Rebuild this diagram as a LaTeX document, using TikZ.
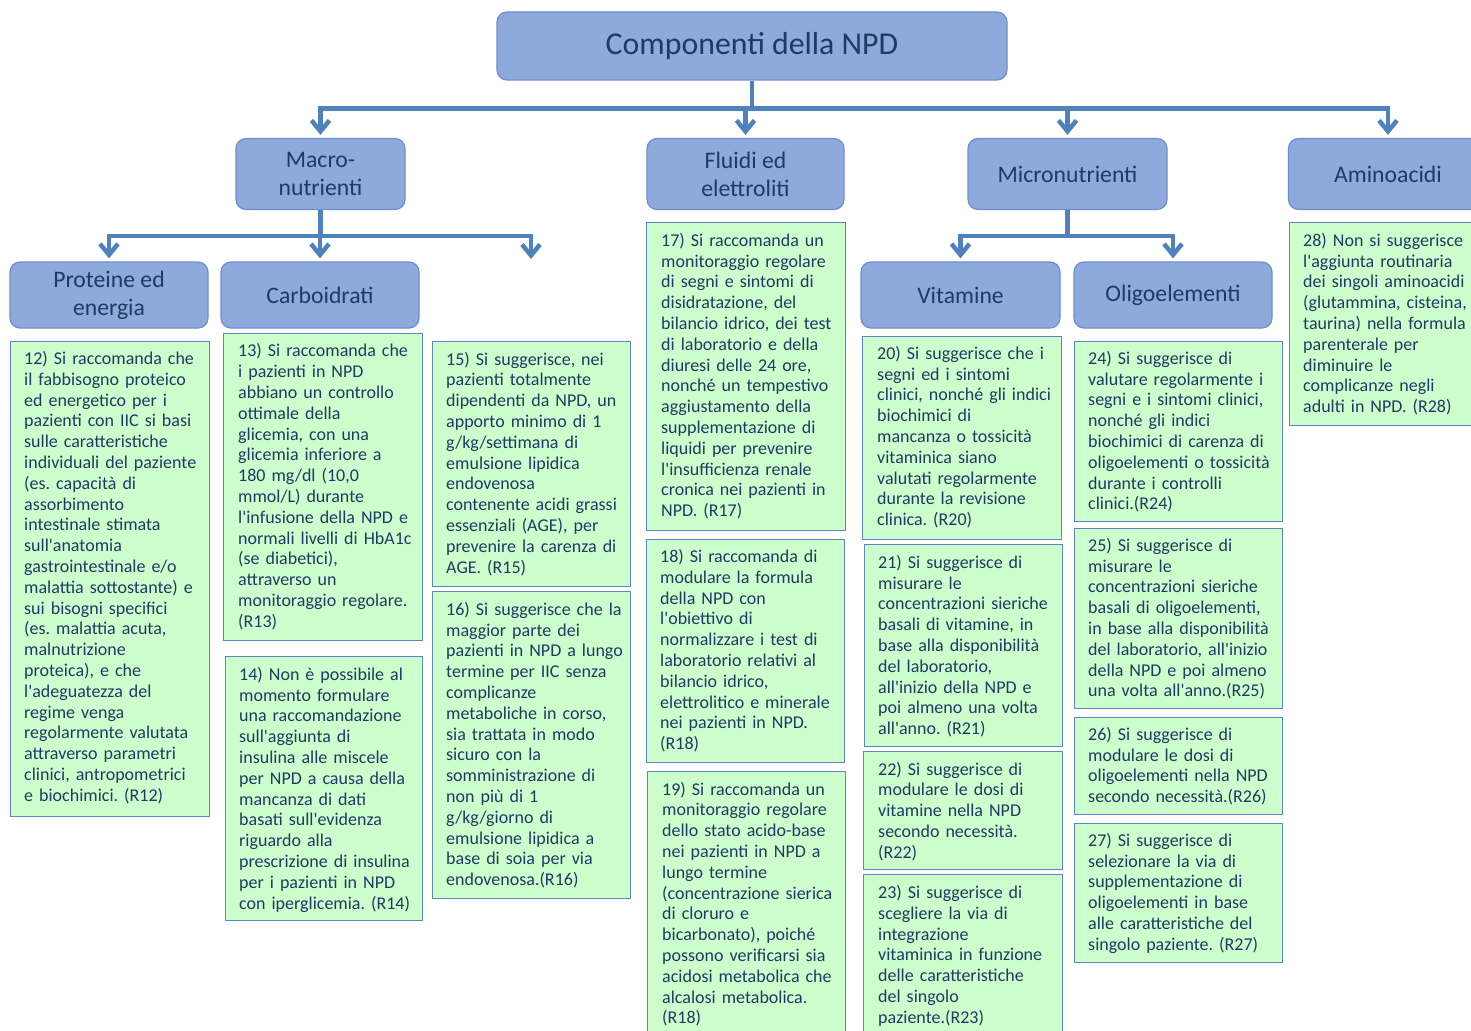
\documentclass[tikz,border=0pt]{standalone}
\usepackage{fontspec}
\newfontfamily\carlitofont{Carlito}
\usetikzlibrary{arrows.meta}
\definecolor{hdrfill}{HTML}{8EA9DB}
\definecolor{hdrline}{HTML}{6E8ECD}
\definecolor{txtblue}{HTML}{1F3A63}
\definecolor{gfill}{HTML}{CCFFCC}
\definecolor{gline}{HTML}{5B87C5}
\definecolor{cline}{HTML}{4F81BD}
\newcommand\firststrut{\setlength{\parindent}{0pt}\rule{0pt}{14.56pt}}
\frenchspacing

\begin{document}
\begin{tikzpicture}[x=1pt,y=-1pt,
  hdr/.style={draw=hdrline, fill=hdrfill, rounded corners=10pt, line width=1.2pt,
    text=txtblue, align=center, inner sep=0pt,
    font={\carlitofont\fontsize{23.7}{28}\selectfont}},
  gbox/.style={draw=gline, fill=gfill, line width=1.3pt, inner sep=0pt, anchor=north west},
  gtxt/.style={anchor=north west, inner sep=0pt, text=txtblue, align=left, text width=250pt,
    font={\carlitofont\fontsize{18}{20.8}\selectfont}},
  conn/.style={draw=cline, line width=4.5pt},
  bus/.style={conn, line cap=rect},
  arr/.style={conn, -{Straight Barb[length=11pt,width=18pt]}, shorten >=3pt}
]
\useasboundingbox (0,0) rectangle (1471,1030);
\clip (0,0) rectangle (1471,1030);

% ---------- headers ----------
\node[hdr, minimum width=510pt, minimum height=68pt,
      font={\carlitofont\fontsize{31.8}{36}\selectfont}] (root) at (752,46) {Componenti della NPD};
\node[hdr, minimum width=169pt, minimum height=71pt] (macro) at (320.5,174) {Macro-\\nutrienti};
\node[hdr, minimum width=197pt, minimum height=71pt] (fluidi) at (745.5,174) {Fluidi ed\\elettroliti};
\node[hdr, minimum width=199pt, minimum height=71pt] (micro) at (1067.5,174) {Micronutrienti};
\node[hdr, minimum width=199pt, minimum height=71pt] (amino) at (1388,174) {Aminoacidi};
\node[hdr, minimum width=198pt, minimum height=66pt] (prot) at (109,295) {Proteine ed\\energia};
\node[hdr, minimum width=198pt, minimum height=66pt] (carb) at (320,295) {Carboidrati};
\node[hdr, minimum width=199pt, minimum height=66pt] (vit) at (960.5,295) {Vitamine};
\node[hdr, minimum width=198pt, minimum height=66pt] (oligo) at (1173,295) {Oligoelementi};
\coordinate (lipid) at (531,262);

% ---------- connectors ----------
\coordinate (topbus) at (752,108.5);
\coordinate (lowbus) at (320,236);
\draw[conn] (root.south) -- (topbus);
\draw[bus] (macro.north |- topbus) -- (amino.north |- topbus);
\draw[arr] (macro.north |- topbus) -- (macro.north);
\draw[arr] (fluidi.north |- topbus) -- (fluidi.north);
\draw[arr] (micro.north |- topbus) -- (micro.north);
\draw[arr] (amino.north |- topbus) -- (amino.north);

\draw[conn] (macro.south) -- (macro.south |- lowbus);
\draw[bus] (prot.north |- lowbus) -- (lipid |- lowbus);
\draw[arr] (prot.north |- lowbus) -- (prot.north);
\draw[arr] (carb.north |- lowbus) -- (carb.north);
\draw[arr] (lipid |- lowbus) -- (lipid);

\draw[conn] (micro.south) -- (micro.south |- lowbus);
\draw[bus] (vit.north |- lowbus) -- (oligo.north |- lowbus);
\draw[arr] (vit.north |- lowbus) -- (vit.north);
\draw[arr] (oligo.north |- lowbus) -- (oligo.north);

% ---------- recommendation boxes ----------
\node[gbox, minimum width=199pt, minimum height=475pt] (b12) at (10,341) {};
\node[gtxt] (t12) at (24,349.7) {\firststrut 12) Si raccomanda che\\il fabbisogno proteico\\ed energetico per i\\pazienti con IIC si basi\\sulle caratteristiche\\individuali del paziente\\(es. capacità di\\assorbimento\\intestinale stimata\\sull'anatomia\\gastrointestinale e/o\\malattia sottostante) e\\sui bisogni specifici\\(es. malattia acuta,\\malnutrizione\\proteica), e che\\l'adeguatezza del\\regime venga\\regolarmente valutata\\attraverso parametri\\clinici, antropometrici\\e biochimici. (R12)};

\node[gbox, minimum width=199pt, minimum height=307pt] (b13) at (223,333) {};
\node[gtxt] (t13) at (238,342.1) {\firststrut 13) Si raccomanda che\\i pazienti in NPD\\abbiano un controllo\\ottimale della\\glicemia, con una\\glicemia inferiore a\\180 mg/dl (10,0\\mmol/L) durante\\l'infusione della NPD e\\normali livelli di HbA1c\\(se diabetici),\\attraverso un\\monitoraggio regolare.\\(R13)};

\node[gbox, minimum width=197pt, minimum height=264pt] (b14) at (225,656) {};
\node[gtxt] (t14) at (239,665.6) {\firststrut 14) Non è possibile al\\momento formulare\\una raccomandazione\\sull'aggiunta di\\insulina alle miscele\\per NPD a causa della\\mancanza di dati\\basati sull'evidenza\\riguardo alla\\prescrizione di insulina\\per i pazienti in NPD\\con iperglicemia. (R14)};

\node[gbox, minimum width=198pt, minimum height=245pt] (b15) at (432,341) {};
\node[gtxt] (t15) at (446,350.4) {\firststrut 15) Si suggerisce, nei\\pazienti totalmente\\dipendenti da NPD, un\\apporto minimo di 1\\g/kg/settimana di\\emulsione lipidica\\endovenosa\\contenente acidi grassi\\essenziali (AGE), per\\prevenire la carenza di\\AGE. (R15)};

\node[gbox, minimum width=198pt, minimum height=307pt] (b16) at (432,591) {};
\node[gtxt] (t16) at (446,600.6) {\firststrut 16) Si suggerisce che la\\maggior parte dei\\pazienti in NPD a lungo\\termine per IIC senza\\complicanze\\metaboliche in corso,\\sia trattata in modo\\sicuro con la\\somministrazione di\\non più di 1\\g/kg/giorno di\\emulsione lipidica a\\base di soia per via\\endovenosa.(R16)};

\node[gbox, minimum width=199pt, minimum height=308pt] (b17) at (646,222) {};
\node[gtxt] (t17) at (661,231.6) {\firststrut 17) Si raccomanda un\\monitoraggio regolare\\di segni e sintomi di\\disidratazione, del\\bilancio idrico, dei test\\di laboratorio e della\\diuresi delle 24 ore,\\nonché un tempestivo\\aggiustamento della\\supplementazione di\\liquidi per prevenire\\l'insufficienza renale\\cronica nei pazienti in\\NPD. (R17)};

\node[gbox, minimum width=198pt, minimum height=223pt] (b18) at (646,539) {};
\node[gtxt] (t18) at (660,547.7) {\firststrut 18) Si raccomanda di\\modulare la formula\\della NPD con\\l'obiettivo di\\normalizzare i test di\\laboratorio relativi al\\bilancio idrico,\\elettrolitico e minerale\\nei pazienti in NPD.\\(R18)};

\node[gbox, minimum width=198pt, minimum height=275pt] (b19) at (647,771) {};
\node[gtxt] (t19) at (662,780.4) {\firststrut 19) Si raccomanda un\\monitoraggio regolare\\dello stato acido-base\\nei pazienti in NPD a\\lungo termine\\(concentrazione sierica\\di cloruro e\\bicarbonato), poiché\\possono verificarsi sia\\acidosi metabolica che\\alcalosi metabolica.\\(R18)};

\node[gbox, minimum width=199pt, minimum height=203pt] (b20) at (862,336) {};
\node[gtxt] (t20) at (877,344.6) {\firststrut 20) Si suggerisce che i\\segni ed i sintomi\\clinici, nonché gli indici\\biochimici di\\mancanza o tossicità\\vitaminica siano\\valutati regolarmente\\durante la revisione\\clinica. (R20)};

\node[gbox, minimum width=198pt, minimum height=202pt] (b21) at (864,544) {};
\node[gtxt] (t21) at (878,553.6) {\firststrut 21) Si suggerisce di\\misurare le\\concentrazioni sieriche\\basali di vitamine, in\\base alla disponibilità\\del laboratorio,\\all'inizio della NPD e\\poi almeno una volta\\all'anno. (R21)};

\node[gbox, minimum width=199pt, minimum height=118pt] (b22) at (863,751) {};
\node[gtxt] (t22) at (878,760.4) {\firststrut 22) Si suggerisce di\\modulare le dosi di\\vitamine nella NPD\\secondo necessità.\\(R22)};

\node[gbox, minimum width=199pt, minimum height=175pt] (b23) at (863,874) {};
\node[gtxt] (t23) at (878,883.7) {\firststrut 23) Si suggerisce di\\scegliere la via di\\integrazione\\vitaminica in funzione\\delle caratteristiche\\del singolo\\paziente.(R23)};

\node[gbox, minimum width=208pt, minimum height=180pt] (b24) at (1074,341) {};
\node[gtxt] (t24) at (1088,349.6) {\firststrut 24) Si suggerisce di\\valutare regolarmente i\\segni e i sintomi clinici,\\nonché gli indici\\biochimici di carenza di\\oligoelementi o tossicità\\durante i controlli\\clinici.(R24)};

\node[gbox, minimum width=208pt, minimum height=180pt] (b25) at (1074,528) {};
\node[gtxt] (t25) at (1088,536.6) {\firststrut 25) Si suggerisce di\\misurare le\\concentrazioni sieriche\\basali di oligoelementi,\\in base alla disponibilità\\del laboratorio, all'inizio\\della NPD e poi almeno\\una volta all'anno.(R25)};

\node[gbox, minimum width=208pt, minimum height=97pt] (b26) at (1074,717) {};
\node[gtxt] (t26) at (1088,725.6) {\firststrut 26) Si suggerisce di\\modulare le dosi di\\oligoelementi nella NPD\\secondo necessità.(R26)};

\node[gbox, minimum width=208pt, minimum height=139pt] (b27) at (1074,823) {};
\node[gtxt] (t27) at (1088,831.6) {\firststrut 27) Si suggerisce di\\selezionare la via di\\supplementazione di\\oligoelementi in base\\alle caratteristiche del\\singolo paziente. (R27)};

\node[gbox, minimum width=199pt, minimum height=203pt] (b28) at (1289,222) {};
\node[gtxt] (t28) at (1303,231.6) {\firststrut 28) Non si suggerisce\\l'aggiunta routinaria\\dei singoli aminoacidi\\(glutammina, cisteina,\\taurina) nella formula\\parenterale per\\diminuire le\\complicanze negli\\adulti in NPD. (R28)};

\end{tikzpicture}
\end{document}
